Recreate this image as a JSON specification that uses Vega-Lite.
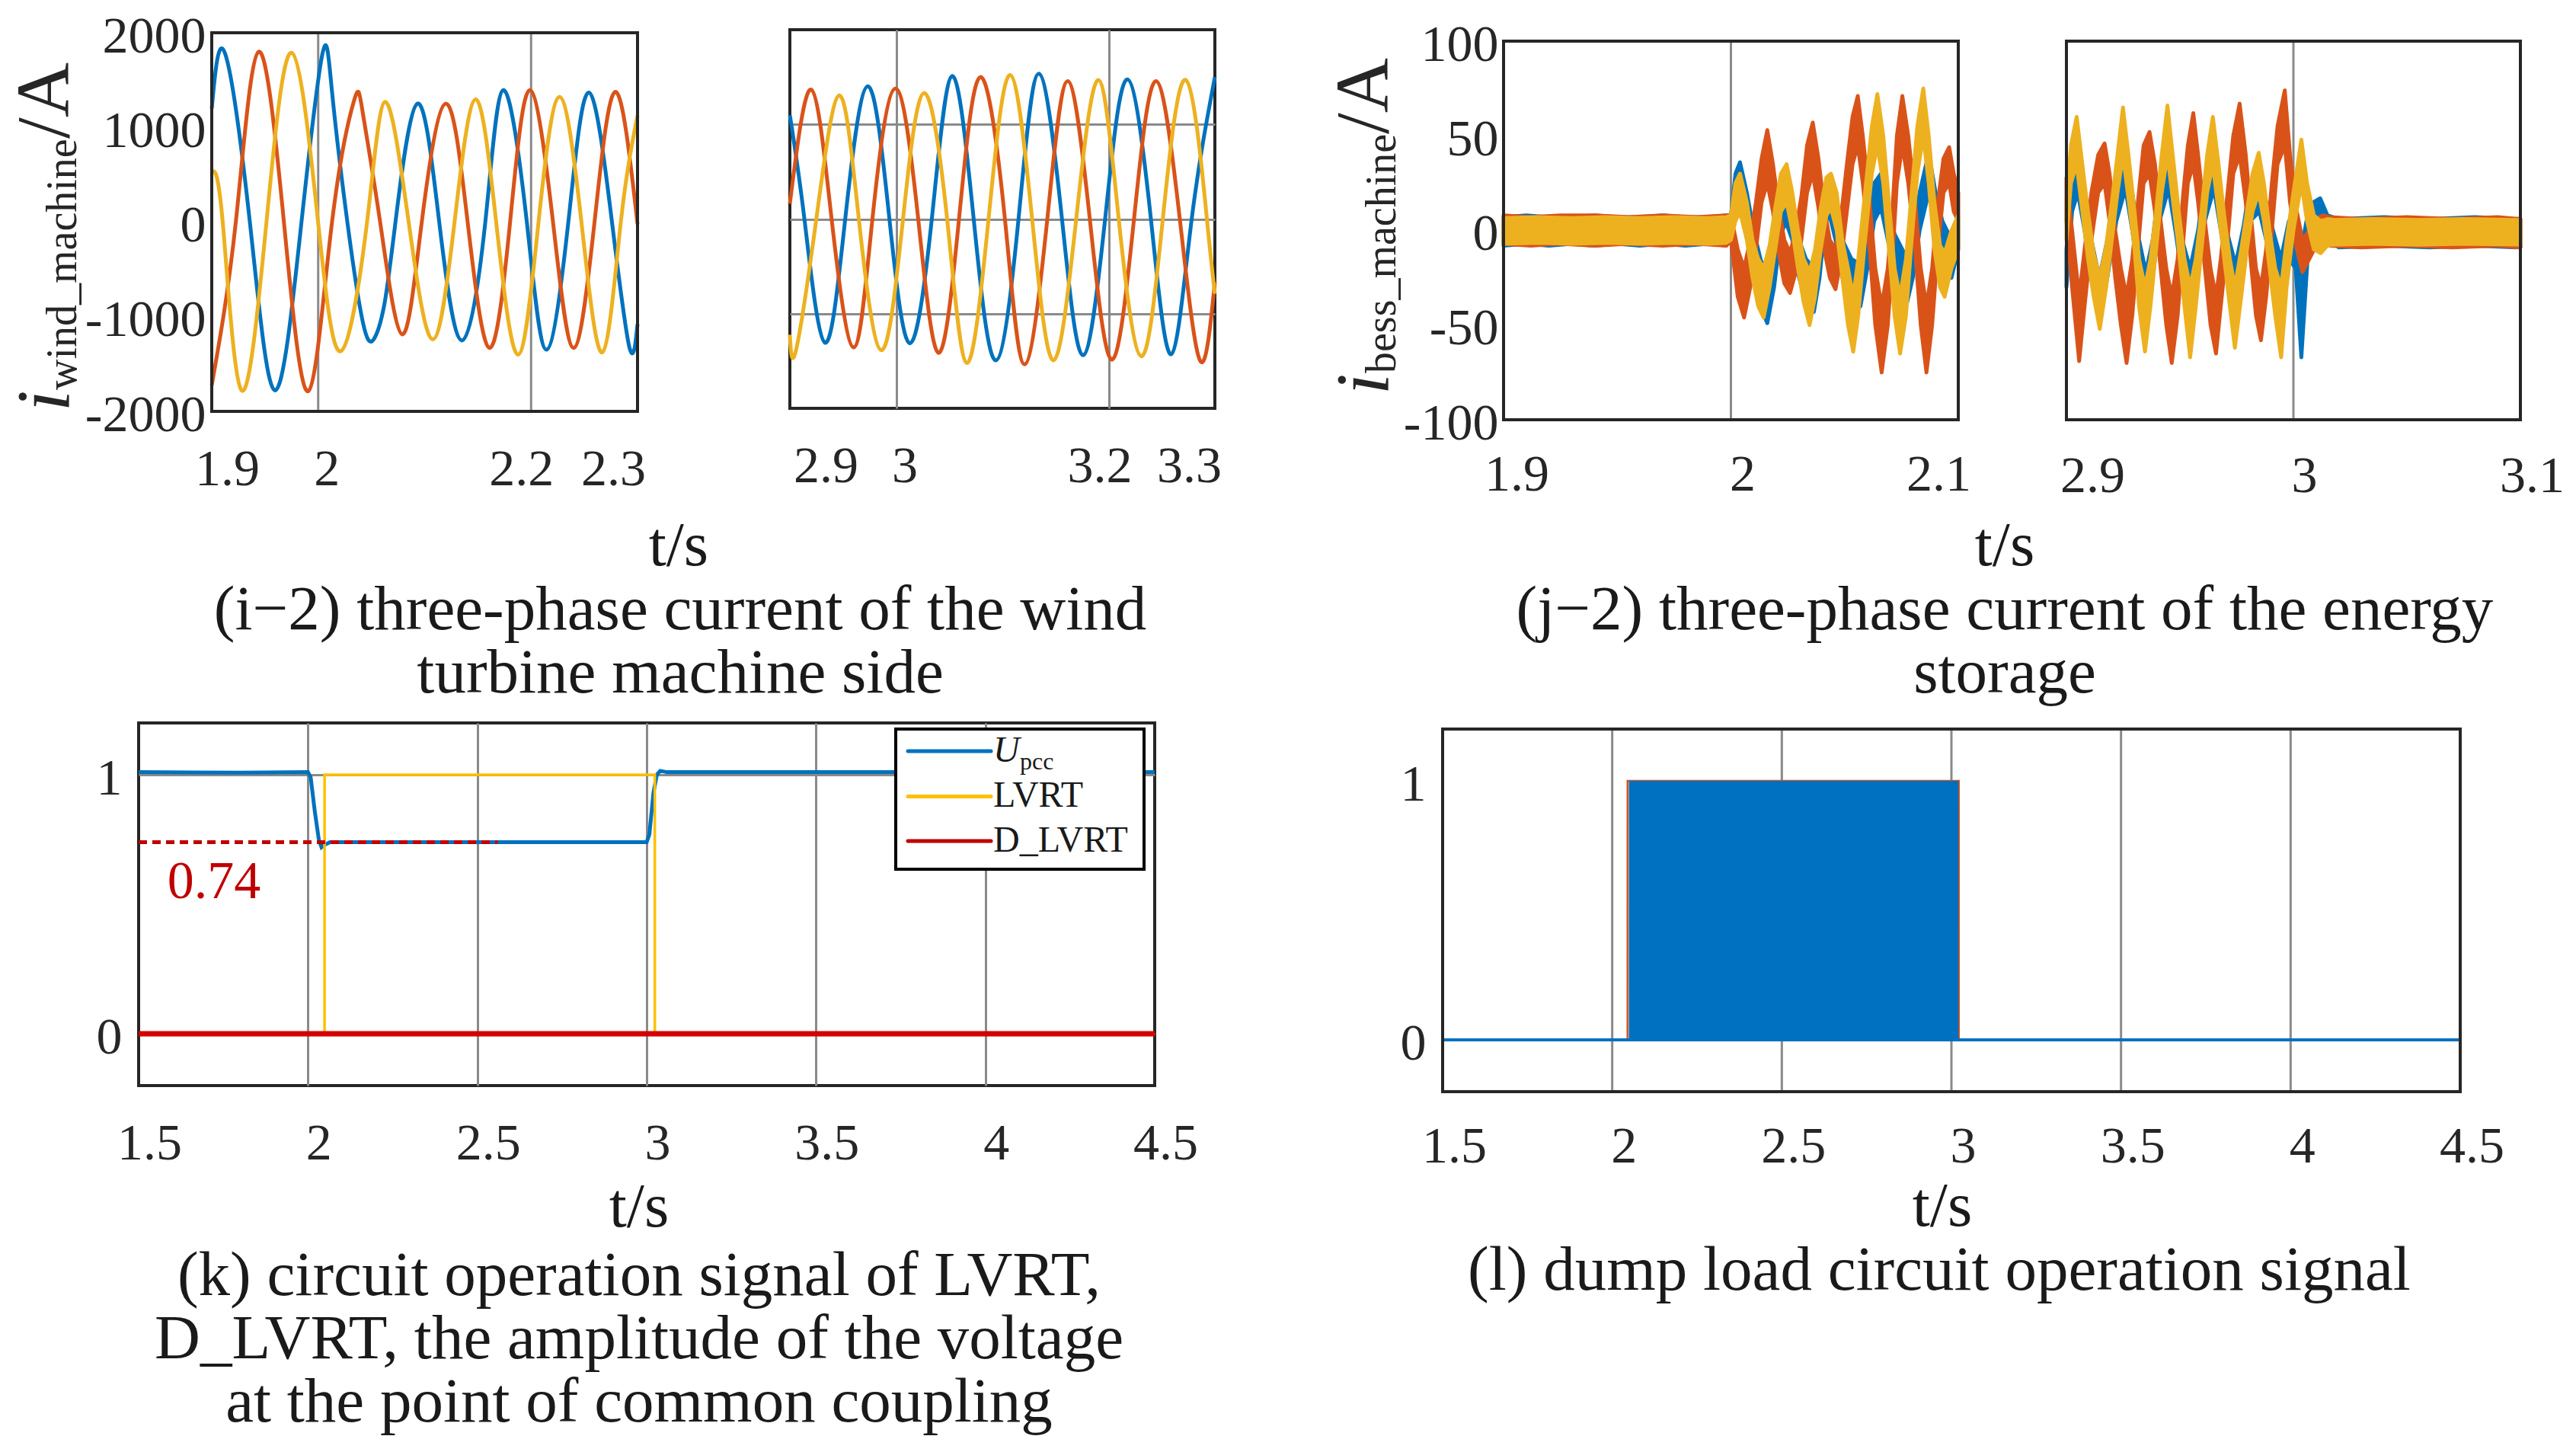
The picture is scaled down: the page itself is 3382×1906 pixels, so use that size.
{
"$schema": "https://vega.github.io/schema/vega-lite/v6.json",
"background": "white",
"padding": {"left": 0, "top": 14, "right": 0, "bottom": 0},
"spacing": 21,
"bounds": "full",
"config": {
  "view": {"stroke": null},
  "font": "Liberation Serif",
  "axis": {"labelFont": "Liberation Serif", "labelFontSize": 68, "labelColor": "#262626", "gridColor": "#8a8a8a", "gridWidth": 3, "domain": false, "ticks": false, "tickSize": 0, "labelFlush": false, "labelOverlap": false, "labelBound": false},
  "text": {"font": "Liberation Serif", "color": "#1a1a1a"}
},
"datasets": {
  "wind": [
    {"p":1,"ph":"a","t":1.9,"v":1197},{"p":1,"ph":"a","t":1.9123,"v":1788},{"p":1,"ph":"a","t":1.9358,"v":0},{"p":1,"ph":"a","t":1.9596,"v":-1778},{"p":1,"ph":"a","t":1.9843,"v":0},{"p":1,"ph":"a","t":2.004,"v":1778},{"p":1,"ph":"a","t":2.013,"v":1376},{"p":1,"ph":"a","t":2.0274,"v":0},{"p":1,"ph":"a","t":2.042,"v":-1060},{"p":1,"ph":"a","t":2.0521,"v":-1240},{"p":1,"ph":"a","t":2.062,"v":-880},{"p":1,"ph":"a","t":2.0726,"v":0},{"p":1,"ph":"a","t":2.0932,"v":1251},{"p":1,"ph":"a","t":2.1137,"v":0},{"p":1,"ph":"a","t":2.135,"v":-1251},{"p":1,"ph":"a","t":2.157,"v":0},{"p":1,"ph":"a","t":2.1741,"v":1394},{"p":1,"ph":"a","t":2.196,"v":0},{"p":1,"ph":"a","t":2.2144,"v":-1348},{"p":1,"ph":"a","t":2.235,"v":0},{"p":1,"ph":"a","t":2.2543,"v":1369},{"p":1,"ph":"a","t":2.276,"v":0},{"p":1,"ph":"a","t":2.2925,"v":-1330},{"p":1,"ph":"a","t":2.3,"v":-1079},
    {"p":1,"ph":"b","t":1.9,"v":-1724},{"p":1,"ph":"b","t":1.9226,"v":0},{"p":1,"ph":"b","t":1.944,"v":1799},{"p":1,"ph":"b","t":1.9678,"v":0},{"p":1,"ph":"b","t":1.9908,"v":-1785},{"p":1,"ph":"b","t":2.013,"v":0},{"p":1,"ph":"b","t":2.0336,"v":1280},{"p":1,"ph":"b","t":2.0418,"v":1161},{"p":1,"ph":"b","t":2.0582,"v":0},{"p":1,"ph":"b","t":2.0788,"v":-1186},{"p":1,"ph":"b","t":2.0973,"v":0},{"p":1,"ph":"b","t":2.12,"v":1251},{"p":1,"ph":"b","t":2.1404,"v":0},{"p":1,"ph":"b","t":2.161,"v":-1330},{"p":1,"ph":"b","t":2.1803,"v":0},{"p":1,"ph":"b","t":2.1988,"v":1394},{"p":1,"ph":"b","t":2.2206,"v":0},{"p":1,"ph":"b","t":2.24,"v":-1330},{"p":1,"ph":"b","t":2.2596,"v":0},{"p":1,"ph":"b","t":2.2793,"v":1376},{"p":1,"ph":"b","t":2.3,"v":-21},
    {"p":1,"ph":"c","t":1.9,"v":534},{"p":1,"ph":"c","t":1.9103,"v":0},{"p":1,"ph":"c","t":1.928,"v":-1778},{"p":1,"ph":"c","t":1.9514,"v":0},{"p":1,"ph":"c","t":1.9752,"v":1788},{"p":1,"ph":"c","t":1.9999,"v":0},{"p":1,"ph":"c","t":2.0212,"v":-1365},{"p":1,"ph":"c","t":2.0459,"v":0},{"p":1,"ph":"c","t":2.0632,"v":1269},{"p":1,"ph":"c","t":2.085,"v":0},{"p":1,"ph":"c","t":2.1076,"v":-1240},{"p":1,"ph":"c","t":2.1281,"v":0},{"p":1,"ph":"c","t":2.1478,"v":1297},{"p":1,"ph":"c","t":2.1672,"v":0},{"p":1,"ph":"c","t":2.1877,"v":-1401},{"p":1,"ph":"c","t":2.207,"v":0},{"p":1,"ph":"c","t":2.2267,"v":1322},{"p":1,"ph":"c","t":2.2473,"v":0},{"p":1,"ph":"c","t":2.267,"v":-1376},{"p":1,"ph":"c","t":2.2843,"v":0},{"p":1,"ph":"c","t":2.3,"v":1125},
    {"p":2,"ph":"a","t":2.9,"v":1097},{"p":2,"ph":"a","t":2.9137,"v":0},{"p":2,"ph":"a","t":2.9329,"v":-1306},{"p":2,"ph":"a","t":2.9521,"v":0},{"p":2,"ph":"a","t":2.9735,"v":1403},{"p":2,"ph":"a","t":2.9937,"v":0},{"p":2,"ph":"a","t":3.0129,"v":-1313},{"p":2,"ph":"a","t":3.0336,"v":0},{"p":2,"ph":"a","t":3.0528,"v":1511},{"p":2,"ph":"a","t":3.073,"v":0},{"p":2,"ph":"a","t":3.0937,"v":-1493},{"p":2,"ph":"a","t":3.1152,"v":0},{"p":2,"ph":"a","t":3.1343,"v":1536},{"p":2,"ph":"a","t":3.1561,"v":0},{"p":2,"ph":"a","t":3.1759,"v":-1439},{"p":2,"ph":"a","t":3.1967,"v":0},{"p":2,"ph":"a","t":3.2175,"v":1475},{"p":2,"ph":"a","t":3.2398,"v":0},{"p":2,"ph":"a","t":3.259,"v":-1428},{"p":2,"ph":"a","t":3.2782,"v":0},{"p":2,"ph":"a","t":3.3,"v":1500},
    {"p":2,"ph":"b","t":2.9,"v":162},{"p":2,"ph":"b","t":2.9201,"v":1367},{"p":2,"ph":"b","t":2.9393,"v":0},{"p":2,"ph":"b","t":2.9601,"v":-1356},{"p":2,"ph":"b","t":2.9777,"v":0},{"p":2,"ph":"b","t":2.9994,"v":1378},{"p":2,"ph":"b","t":3.0208,"v":0},{"p":2,"ph":"b","t":3.04,"v":-1414},{"p":2,"ph":"b","t":3.0592,"v":0},{"p":2,"ph":"b","t":3.0794,"v":1500},{"p":2,"ph":"b","t":3.1024,"v":0},{"p":2,"ph":"b","t":3.1209,"v":-1536},{"p":2,"ph":"b","t":3.1423,"v":0},{"p":2,"ph":"b","t":3.1615,"v":1457},{"p":2,"ph":"b","t":3.1823,"v":0},{"p":2,"ph":"b","t":3.2031,"v":-1486},{"p":2,"ph":"b","t":3.2239,"v":0},{"p":2,"ph":"b","t":3.2446,"v":1457},{"p":2,"ph":"b","t":3.267,"v":0},{"p":2,"ph":"b","t":3.2862,"v":-1500},{"p":2,"ph":"b","t":3.3,"v":-665},
    {"p":2,"ph":"c","t":2.9,"v":-1223},{"p":2,"ph":"c","t":2.9058,"v":-1385},{"p":2,"ph":"c","t":2.9249,"v":0},{"p":2,"ph":"c","t":2.9464,"v":1306},{"p":2,"ph":"c","t":2.9649,"v":0},{"p":2,"ph":"c","t":2.9863,"v":-1385},{"p":2,"ph":"c","t":3.0065,"v":0},{"p":2,"ph":"c","t":3.0263,"v":1331},{"p":2,"ph":"c","t":3.048,"v":0},{"p":2,"ph":"c","t":3.0666,"v":-1522},{"p":2,"ph":"c","t":3.087,"v":0},{"p":2,"ph":"c","t":3.1072,"v":1522},{"p":2,"ph":"c","t":3.128,"v":0},{"p":2,"ph":"c","t":3.1481,"v":-1493},{"p":2,"ph":"c","t":3.1695,"v":0},{"p":2,"ph":"c","t":3.1903,"v":1468},{"p":2,"ph":"c","t":3.2095,"v":0},{"p":2,"ph":"c","t":3.2309,"v":-1450},{"p":2,"ph":"c","t":3.251,"v":0},{"p":2,"ph":"c","t":3.2728,"v":1468},{"p":2,"ph":"c","t":3.2925,"v":0},{"p":2,"ph":"c","t":3.3,"v":-790}
  ],
  "bess": [
    {"p":1,"ph":"a","t":1.9,"lo":-8,"hi":7},{"p":1,"ph":"a","t":1.91,"lo":-7,"hi":8},{"p":1,"ph":"a","t":1.92,"lo":-8,"hi":7},{"p":1,"ph":"a","t":1.93,"lo":-7,"hi":7},{"p":1,"ph":"a","t":1.94,"lo":-8,"hi":8},{"p":1,"ph":"a","t":1.95,"lo":-7,"hi":7},{"p":1,"ph":"a","t":1.96,"lo":-8,"hi":7},{"p":1,"ph":"a","t":1.97,"lo":-7,"hi":8},{"p":1,"ph":"a","t":1.98,"lo":-8,"hi":7},{"p":1,"ph":"a","t":1.99,"lo":-7,"hi":7},{"p":1,"ph":"a","t":1.998,"lo":-8,"hi":8},
    {"p":1,"ph":"a","t":2.0,"lo":-5,"hi":8},{"p":1,"ph":"a","t":2.002,"lo":15,"hi":30},{"p":1,"ph":"a","t":2.004,"lo":20,"hi":36},{"p":1,"ph":"a","t":2.007,"lo":0,"hi":20},{"p":1,"ph":"a","t":2.01,"lo":-20,"hi":0},{"p":1,"ph":"a","t":2.013,"lo":-40,"hi":-15},{"p":1,"ph":"a","t":2.016,"lo":-49,"hi":-25},{"p":1,"ph":"a","t":2.019,"lo":-30,"hi":-8},{"p":1,"ph":"a","t":2.0215,"lo":-5,"hi":15},{"p":1,"ph":"a","t":2.024,"lo":5,"hi":22},{"p":1,"ph":"a","t":2.027,"lo":-5,"hi":15},{"p":1,"ph":"a","t":2.03,"lo":-25,"hi":-5},{"p":1,"ph":"a","t":2.033,"lo":-38,"hi":-15},{"p":1,"ph":"a","t":2.0365,"lo":-43,"hi":-20},{"p":1,"ph":"a","t":2.039,"lo":-25,"hi":-5},{"p":1,"ph":"a","t":2.041,"lo":0,"hi":20},{"p":1,"ph":"a","t":2.043,"lo":10,"hi":28},{"p":1,"ph":"a","t":2.046,"lo":-5,"hi":15},{"p":1,"ph":"a","t":2.049,"lo":-25,"hi":-5},{"p":1,"ph":"a","t":2.053,"lo":-35,"hi":-15},{"p":1,"ph":"a","t":2.057,"lo":-40,"hi":-18},{"p":1,"ph":"a","t":2.06,"lo":-20,"hi":0},{"p":1,"ph":"a","t":2.063,"lo":5,"hi":25},{"p":1,"ph":"a","t":2.066,"lo":12,"hi":30},{"p":1,"ph":"a","t":2.069,"lo":-5,"hi":15},{"p":1,"ph":"a","t":2.072,"lo":-22,"hi":-2},{"p":1,"ph":"a","t":2.0775,"lo":-38,"hi":-15},{"p":1,"ph":"a","t":2.08,"lo":-25,"hi":-5},{"p":1,"ph":"a","t":2.083,"lo":0,"hi":20},{"p":1,"ph":"a","t":2.087,"lo":20,"hi":41},{"p":1,"ph":"a","t":2.09,"lo":0,"hi":20},{"p":1,"ph":"a","t":2.093,"lo":-15,"hi":5},{"p":1,"ph":"a","t":2.097,"lo":-25,"hi":-5},{"p":1,"ph":"a","t":2.1,"lo":-10,"hi":5},
    {"p":1,"ph":"b","t":1.9,"lo":-7,"hi":8},{"p":1,"ph":"b","t":1.912,"lo":-8,"hi":7},{"p":1,"ph":"b","t":1.925,"lo":-7,"hi":8},{"p":1,"ph":"b","t":1.94,"lo":-8,"hi":8},{"p":1,"ph":"b","t":1.955,"lo":-7,"hi":7},{"p":1,"ph":"b","t":1.97,"lo":-8,"hi":8},{"p":1,"ph":"b","t":1.985,"lo":-7,"hi":7},{"p":1,"ph":"b","t":1.998,"lo":-8,"hi":8},
    {"p":1,"ph":"b","t":2.0,"lo":-5,"hi":8},{"p":1,"ph":"b","t":2.003,"lo":-35,"hi":-10},{"p":1,"ph":"b","t":2.0058,"lo":-46,"hi":-20},{"p":1,"ph":"b","t":2.0085,"lo":-30,"hi":-5},{"p":1,"ph":"b","t":2.011,"lo":-10,"hi":15},{"p":1,"ph":"b","t":2.0135,"lo":15,"hi":38},{"p":1,"ph":"b","t":2.016,"lo":25,"hi":53},{"p":1,"ph":"b","t":2.0185,"lo":10,"hi":35},{"p":1,"ph":"b","t":2.021,"lo":-12,"hi":12},{"p":1,"ph":"b","t":2.0235,"lo":-28,"hi":-5},{"p":1,"ph":"b","t":2.026,"lo":-33,"hi":-12},{"p":1,"ph":"b","t":2.0285,"lo":-22,"hi":0},{"p":1,"ph":"b","t":2.031,"lo":-5,"hi":18},{"p":1,"ph":"b","t":2.0335,"lo":20,"hi":45},{"p":1,"ph":"b","t":2.036,"lo":30,"hi":57},{"p":1,"ph":"b","t":2.0385,"lo":12,"hi":38},{"p":1,"ph":"b","t":2.041,"lo":-10,"hi":12},{"p":1,"ph":"b","t":2.0435,"lo":-25,"hi":-5},{"p":1,"ph":"b","t":2.046,"lo":-31,"hi":-10},{"p":1,"ph":"b","t":2.0485,"lo":-15,"hi":8},{"p":1,"ph":"b","t":2.051,"lo":10,"hi":35},{"p":1,"ph":"b","t":2.0535,"lo":35,"hi":60},{"p":1,"ph":"b","t":2.0558,"lo":45,"hi":71},{"p":1,"ph":"b","t":2.058,"lo":25,"hi":50},{"p":1,"ph":"b","t":2.061,"lo":-10,"hi":15},{"p":1,"ph":"b","t":2.0635,"lo":-50,"hi":-20},{"p":1,"ph":"b","t":2.0663,"lo":-75,"hi":-40},{"p":1,"ph":"b","t":2.069,"lo":-50,"hi":-20},{"p":1,"ph":"b","t":2.071,"lo":-15,"hi":10},{"p":1,"ph":"b","t":2.073,"lo":25,"hi":50},{"p":1,"ph":"b","t":2.0754,"lo":45,"hi":71},{"p":1,"ph":"b","t":2.078,"lo":25,"hi":50},{"p":1,"ph":"b","t":2.081,"lo":-10,"hi":15},{"p":1,"ph":"b","t":2.0835,"lo":-50,"hi":-20},{"p":1,"ph":"b","t":2.086,"lo":-75,"hi":-40},{"p":1,"ph":"b","t":2.0885,"lo":-50,"hi":-20},{"p":1,"ph":"b","t":2.091,"lo":-10,"hi":15},{"p":1,"ph":"b","t":2.0935,"lo":20,"hi":38},{"p":1,"ph":"b","t":2.096,"lo":25,"hi":44},{"p":1,"ph":"b","t":2.098,"lo":10,"hi":30},{"p":1,"ph":"b","t":2.1,"lo":5,"hi":20},
    {"p":1,"ph":"c","t":1.9,"lo":-7,"hi":6.5},{"p":1,"ph":"c","t":1.915,"lo":-6.5,"hi":7},{"p":1,"ph":"c","t":1.93,"lo":-7,"hi":6.5},{"p":1,"ph":"c","t":1.945,"lo":-6.5,"hi":7},{"p":1,"ph":"c","t":1.96,"lo":-7,"hi":6.5},{"p":1,"ph":"c","t":1.975,"lo":-6.5,"hi":7},{"p":1,"ph":"c","t":1.99,"lo":-7,"hi":6.5},{"p":1,"ph":"c","t":1.998,"lo":-6.5,"hi":7},
    {"p":1,"ph":"c","t":2.0,"lo":-5,"hi":8},{"p":1,"ph":"c","t":2.002,"lo":5,"hi":25},{"p":1,"ph":"c","t":2.004,"lo":10,"hi":30},{"p":1,"ph":"c","t":2.007,"lo":-5,"hi":15},{"p":1,"ph":"c","t":2.0095,"lo":-25,"hi":-5},{"p":1,"ph":"c","t":2.012,"lo":-40,"hi":-15},{"p":1,"ph":"c","t":2.0144,"lo":-46,"hi":-20},{"p":1,"ph":"c","t":2.017,"lo":-30,"hi":-8},{"p":1,"ph":"c","t":2.0195,"lo":-10,"hi":12},{"p":1,"ph":"c","t":2.022,"lo":10,"hi":30},{"p":1,"ph":"c","t":2.0245,"lo":15,"hi":35},{"p":1,"ph":"c","t":2.027,"lo":0,"hi":20},{"p":1,"ph":"c","t":2.0295,"lo":-20,"hi":0},{"p":1,"ph":"c","t":2.032,"lo":-38,"hi":-15},{"p":1,"ph":"c","t":2.0346,"lo":-50,"hi":-22},{"p":1,"ph":"c","t":2.037,"lo":-35,"hi":-10},{"p":1,"ph":"c","t":2.0395,"lo":-10,"hi":12},{"p":1,"ph":"c","t":2.042,"lo":8,"hi":28},{"p":1,"ph":"c","t":2.044,"lo":12,"hi":30},{"p":1,"ph":"c","t":2.0465,"lo":0,"hi":20},{"p":1,"ph":"c","t":2.049,"lo":-25,"hi":-5},{"p":1,"ph":"c","t":2.0515,"lo":-50,"hi":-20},{"p":1,"ph":"c","t":2.0538,"lo":-64,"hi":-35},{"p":1,"ph":"c","t":2.056,"lo":-45,"hi":-15},{"p":1,"ph":"c","t":2.059,"lo":-5,"hi":20},{"p":1,"ph":"c","t":2.062,"lo":30,"hi":55},{"p":1,"ph":"c","t":2.0644,"lo":45,"hi":72},{"p":1,"ph":"c","t":2.067,"lo":25,"hi":50},{"p":1,"ph":"c","t":2.0695,"lo":-10,"hi":15},{"p":1,"ph":"c","t":2.072,"lo":-45,"hi":-20},{"p":1,"ph":"c","t":2.0744,"lo":-65,"hi":-35},{"p":1,"ph":"c","t":2.077,"lo":-45,"hi":-15},{"p":1,"ph":"c","t":2.0795,"lo":-5,"hi":20},{"p":1,"ph":"c","t":2.082,"lo":30,"hi":55},{"p":1,"ph":"c","t":2.0846,"lo":50,"hi":75},{"p":1,"ph":"c","t":2.087,"lo":25,"hi":50},{"p":1,"ph":"c","t":2.0895,"lo":-10,"hi":15},{"p":1,"ph":"c","t":2.092,"lo":-30,"hi":-8},{"p":1,"ph":"c","t":2.094,"lo":-35,"hi":-12},{"p":1,"ph":"c","t":2.097,"lo":-20,"hi":0},{"p":1,"ph":"c","t":2.1,"lo":-10,"hi":8},
    {"p":2,"ph":"a","t":2.9,"lo":-30,"hi":-10},{"p":2,"ph":"a","t":2.9025,"lo":10,"hi":30},{"p":2,"ph":"a","t":2.905,"lo":20,"hi":40},{"p":2,"ph":"a","t":2.908,"lo":0,"hi":20},{"p":2,"ph":"a","t":2.911,"lo":-25,"hi":-5},{"p":2,"ph":"a","t":2.9145,"lo":-49,"hi":-25},{"p":2,"ph":"a","t":2.918,"lo":-25,"hi":-5},{"p":2,"ph":"a","t":2.922,"lo":5,"hi":25},{"p":2,"ph":"a","t":2.926,"lo":22,"hi":42},{"p":2,"ph":"a","t":2.929,"lo":0,"hi":20},{"p":2,"ph":"a","t":2.932,"lo":-25,"hi":-5},{"p":2,"ph":"a","t":2.935,"lo":-45,"hi":-22},{"p":2,"ph":"a","t":2.938,"lo":-25,"hi":-5},{"p":2,"ph":"a","t":2.941,"lo":5,"hi":25},{"p":2,"ph":"a","t":2.945,"lo":22,"hi":43},{"p":2,"ph":"a","t":2.948,"lo":0,"hi":20},{"p":2,"ph":"a","t":2.951,"lo":-25,"hi":-5},{"p":2,"ph":"a","t":2.9545,"lo":-42,"hi":-20},{"p":2,"ph":"a","t":2.958,"lo":-20,"hi":0},{"p":2,"ph":"a","t":2.961,"lo":5,"hi":25},{"p":2,"ph":"a","t":2.965,"lo":22,"hi":42},{"p":2,"ph":"a","t":2.968,"lo":0,"hi":20},{"p":2,"ph":"a","t":2.971,"lo":-22,"hi":-2},{"p":2,"ph":"a","t":2.9745,"lo":-40,"hi":-18},{"p":2,"ph":"a","t":2.978,"lo":-18,"hi":2},{"p":2,"ph":"a","t":2.981,"lo":5,"hi":25},{"p":2,"ph":"a","t":2.985,"lo":10,"hi":28},{"p":2,"ph":"a","t":2.988,"lo":-5,"hi":15},{"p":2,"ph":"a","t":2.991,"lo":-20,"hi":0},{"p":2,"ph":"a","t":2.9945,"lo":-35,"hi":-15},{"p":2,"ph":"a","t":2.998,"lo":-15,"hi":5},{"p":2,"ph":"a","t":3.001,"lo":-20,"hi":0},{"p":2,"ph":"a","t":3.0035,"lo":-67,"hi":-10},{"p":2,"ph":"a","t":3.0065,"lo":-10,"hi":10},{"p":2,"ph":"a","t":3.009,"lo":0,"hi":15},{"p":2,"ph":"a","t":3.0118,"lo":5,"hi":17},{"p":2,"ph":"a","t":3.015,"lo":-3,"hi":8},
    {"p":2,"ph":"a","t":3.02,"lo":-9,"hi":6},{"p":2,"ph":"a","t":3.04,"lo":-8,"hi":7},{"p":2,"ph":"a","t":3.06,"lo":-9,"hi":6},{"p":2,"ph":"a","t":3.08,"lo":-8,"hi":7},{"p":2,"ph":"a","t":3.1,"lo":-9,"hi":6},
    {"p":2,"ph":"b","t":2.9,"lo":5,"hi":28},{"p":2,"ph":"b","t":2.9025,"lo":-30,"hi":0},{"p":2,"ph":"b","t":2.9056,"lo":-69,"hi":-35},{"p":2,"ph":"b","t":2.908,"lo":-40,"hi":-10},{"p":2,"ph":"b","t":2.911,"lo":-5,"hi":20},{"p":2,"ph":"b","t":2.914,"lo":20,"hi":40},{"p":2,"ph":"b","t":2.9168,"lo":25,"hi":46},{"p":2,"ph":"b","t":2.919,"lo":5,"hi":30},{"p":2,"ph":"b","t":2.9215,"lo":-25,"hi":0},{"p":2,"ph":"b","t":2.924,"lo":-50,"hi":-20},{"p":2,"ph":"b","t":2.9265,"lo":-70,"hi":-35},{"p":2,"ph":"b","t":2.929,"lo":-45,"hi":-15},{"p":2,"ph":"b","t":2.9315,"lo":-10,"hi":15},{"p":2,"ph":"b","t":2.934,"lo":25,"hi":45},{"p":2,"ph":"b","t":2.9366,"lo":30,"hi":52},{"p":2,"ph":"b","t":2.939,"lo":10,"hi":35},{"p":2,"ph":"b","t":2.9415,"lo":-20,"hi":5},{"p":2,"ph":"b","t":2.944,"lo":-50,"hi":-20},{"p":2,"ph":"b","t":2.9464,"lo":-70,"hi":-35},{"p":2,"ph":"b","t":2.949,"lo":-45,"hi":-15},{"p":2,"ph":"b","t":2.9515,"lo":-5,"hi":20},{"p":2,"ph":"b","t":2.9535,"lo":25,"hi":45},{"p":2,"ph":"b","t":2.9559,"lo":35,"hi":62},{"p":2,"ph":"b","t":2.958,"lo":15,"hi":40},{"p":2,"ph":"b","t":2.961,"lo":-20,"hi":5},{"p":2,"ph":"b","t":2.9635,"lo":-50,"hi":-20},{"p":2,"ph":"b","t":2.9659,"lo":-65,"hi":-35},{"p":2,"ph":"b","t":2.968,"lo":-40,"hi":-15},{"p":2,"ph":"b","t":2.971,"lo":-5,"hi":20},{"p":2,"ph":"b","t":2.9735,"lo":30,"hi":50},{"p":2,"ph":"b","t":2.9763,"lo":40,"hi":67},{"p":2,"ph":"b","t":2.979,"lo":15,"hi":40},{"p":2,"ph":"b","t":2.9815,"lo":-20,"hi":5},{"p":2,"ph":"b","t":2.9835,"lo":-45,"hi":-20},{"p":2,"ph":"b","t":2.9857,"lo":-58,"hi":-30},{"p":2,"ph":"b","t":2.988,"lo":-35,"hi":-10},{"p":2,"ph":"b","t":2.9905,"lo":0,"hi":25},{"p":2,"ph":"b","t":2.993,"lo":35,"hi":55},{"p":2,"ph":"b","t":2.9962,"lo":45,"hi":74},{"p":2,"ph":"b","t":2.9985,"lo":15,"hi":40},{"p":2,"ph":"b","t":3.0015,"lo":-10,"hi":10},{"p":2,"ph":"b","t":3.004,"lo":-22,"hi":-5},{"p":2,"ph":"b","t":3.007,"lo":-15,"hi":0},{"p":2,"ph":"b","t":3.01,"lo":-8,"hi":6},{"p":2,"ph":"b","t":3.013,"lo":-5,"hi":8},
    {"p":2,"ph":"b","t":3.016,"lo":-8,"hi":7},{"p":2,"ph":"b","t":3.03,"lo":-9,"hi":6},{"p":2,"ph":"b","t":3.05,"lo":-8,"hi":7},{"p":2,"ph":"b","t":3.07,"lo":-9,"hi":6},{"p":2,"ph":"b","t":3.09,"lo":-8,"hi":7},{"p":2,"ph":"b","t":3.1,"lo":-9,"hi":6},
    {"p":2,"ph":"c","t":2.9,"lo":-5,"hi":15},{"p":2,"ph":"c","t":2.902,"lo":25,"hi":45},{"p":2,"ph":"c","t":2.9045,"lo":35,"hi":60},{"p":2,"ph":"c","t":2.907,"lo":10,"hi":35},{"p":2,"ph":"c","t":2.9095,"lo":-15,"hi":10},{"p":2,"ph":"c","t":2.912,"lo":-35,"hi":-12},{"p":2,"ph":"c","t":2.9147,"lo":-52,"hi":-25},{"p":2,"ph":"c","t":2.9175,"lo":-30,"hi":-8},{"p":2,"ph":"c","t":2.92,"lo":-5,"hi":15},{"p":2,"ph":"c","t":2.9225,"lo":20,"hi":40},{"p":2,"ph":"c","t":2.9249,"lo":40,"hi":65},{"p":2,"ph":"c","t":2.9275,"lo":15,"hi":38},{"p":2,"ph":"c","t":2.93,"lo":-10,"hi":10},{"p":2,"ph":"c","t":2.932,"lo":-40,"hi":-15},{"p":2,"ph":"c","t":2.9346,"lo":-64,"hi":-30},{"p":2,"ph":"c","t":2.937,"lo":-40,"hi":-15},{"p":2,"ph":"c","t":2.9395,"lo":-10,"hi":10},{"p":2,"ph":"c","t":2.942,"lo":20,"hi":40},{"p":2,"ph":"c","t":2.9445,"lo":40,"hi":66},{"p":2,"ph":"c","t":2.947,"lo":15,"hi":38},{"p":2,"ph":"c","t":2.9495,"lo":-10,"hi":10},{"p":2,"ph":"c","t":2.952,"lo":-40,"hi":-15},{"p":2,"ph":"c","t":2.9545,"lo":-67,"hi":-30},{"p":2,"ph":"c","t":2.957,"lo":-40,"hi":-15},{"p":2,"ph":"c","t":2.9595,"lo":-10,"hi":10},{"p":2,"ph":"c","t":2.962,"lo":20,"hi":40},{"p":2,"ph":"c","t":2.9645,"lo":35,"hi":60},{"p":2,"ph":"c","t":2.967,"lo":10,"hi":35},{"p":2,"ph":"c","t":2.9695,"lo":-15,"hi":8},{"p":2,"ph":"c","t":2.972,"lo":-40,"hi":-15},{"p":2,"ph":"c","t":2.9742,"lo":-62,"hi":-30},{"p":2,"ph":"c","t":2.977,"lo":-35,"hi":-10},{"p":2,"ph":"c","t":2.9795,"lo":-10,"hi":10},{"p":2,"ph":"c","t":2.982,"lo":10,"hi":30},{"p":2,"ph":"c","t":2.9847,"lo":20,"hi":41},{"p":2,"ph":"c","t":2.987,"lo":5,"hi":25},{"p":2,"ph":"c","t":2.9895,"lo":-20,"hi":0},{"p":2,"ph":"c","t":2.992,"lo":-45,"hi":-20},{"p":2,"ph":"c","t":2.9946,"lo":-67,"hi":-30},{"p":2,"ph":"c","t":2.997,"lo":-30,"hi":-5},{"p":2,"ph":"c","t":3.0,"lo":0,"hi":20},{"p":2,"ph":"c","t":3.0035,"lo":25,"hi":48},{"p":2,"ph":"c","t":3.006,"lo":5,"hi":25},{"p":2,"ph":"c","t":3.009,"lo":-10,"hi":8},{"p":2,"ph":"c","t":3.012,"lo":-12,"hi":5},{"p":2,"ph":"c","t":3.015,"lo":-8,"hi":6},
    {"p":2,"ph":"c","t":3.018,"lo":-7.5,"hi":5.5},{"p":2,"ph":"c","t":3.035,"lo":-7,"hi":6},{"p":2,"ph":"c","t":3.055,"lo":-7.5,"hi":5.5},{"p":2,"ph":"c","t":3.075,"lo":-7,"hi":6},{"p":2,"ph":"c","t":3.1,"lo":-7.5,"hi":5.5}
  ],
  "kdat": [
    {"s":"Upcc","t":1.5,"v":1.01},{"s":"Upcc","t":1.8,"v":1.008},{"s":"Upcc","t":2.0,"v":1.01},{"s":"Upcc","t":2.008,"v":0.99},{"s":"Upcc","t":2.02,"v":0.86},{"s":"Upcc","t":2.032,"v":0.75},{"s":"Upcc","t":2.04,"v":0.72},{"s":"Upcc","t":2.05,"v":0.73},{"s":"Upcc","t":2.065,"v":0.74},{"s":"Upcc","t":2.5,"v":0.74},{"s":"Upcc","t":3.0,"v":0.74},{"s":"Upcc","t":3.008,"v":0.77},{"s":"Upcc","t":3.02,"v":0.93},{"s":"Upcc","t":3.03,"v":1.0},{"s":"Upcc","t":3.04,"v":1.015},{"s":"Upcc","t":3.06,"v":1.01},{"s":"Upcc","t":4.5,"v":1.01},
    {"s":"LVRT","t":1.5,"v":0},{"s":"LVRT","t":2.0489,"v":0},{"s":"LVRT","t":2.049,"v":1},{"s":"LVRT","t":3.024,"v":1},{"s":"LVRT","t":3.0241,"v":0},{"s":"LVRT","t":4.5,"v":0},
    {"s":"D_LVRT","t":1.5,"v":0},{"s":"D_LVRT","t":4.5,"v":0}
  ],
  "kref": [{"t0":1.5,"t1":2.56,"v":0.74}],
  "ldat": [
    {"s":"o","t":2.045,"v":0},{"s":"o","t":2.0451,"v":1},{"s":"o","t":3.0219,"v":1},{"s":"o","t":3.022,"v":0},
    {"s":"b","t":1.5,"v":0},{"s":"b","t":4.5,"v":0}
  ],
  "lfill": [{"t":2.049,"v":1},{"t":3.021,"v":1}]
},
"vconcat": [
 {
  "spacing": 0,
  "bounds": "flush",
  "hconcat": [
  {"width":278,"height":1,"data":{"values":[]},"mark":"point"},
  {
    "width": 559, "height": 501,
    "layer": [
      {"data": {"values": [{"g": 2}, {"g": 2.2}]}, "mark": {"type": "rule", "color": "#8a8a8a", "strokeWidth": 3},
       "encoding": {"x": {"field": "g", "type": "quantitative"}, "y": {"datum": -2000, "type": "quantitative"}, "y2": {"datum": 2000}}},
      {
        "data": {"name": "wind"},
        "transform": [{"filter": "datum.p == 1"}],
        "mark": {"type": "line", "strokeWidth": 5, "interpolate": "natural"},
        "encoding": {
          "x": {"field": "t", "type": "quantitative", "scale": {"domain": [1.9, 2.3], "nice": false, "zero": false},
            "axis": {"title": null, "values": [1.9, 2, 2.2, 2.3], "grid": false, "labelPadding": 42, "labelExpr": "toString(datum.value)",
              "labelOffset": {"condition": [{"test": "datum.value == 1.9", "value": 20}, {"test": "datum.value == 2", "value": 11}, {"test": "datum.value == 2.2", "value": -13}], "value": -32}}},
          "y": {"field": "v", "type": "quantitative", "scale": {"domain": [-2000, 2032.2], "nice": false, "zero": false},
            "axis": {"title": null, "values": [-2000, -1000, 0, 1000, 2000], "labelPadding": 8, "labelOffset": 5, "labelExpr": "toString(datum.value)",
              "gridOpacity": {"condition": {"test": "abs(datum.value) >= 2000", "value": 0}, "value": 1}}},
          "color": {"field": "ph", "type": "nominal", "scale": {"domain": ["a", "b", "c"], "range": ["#0072BD", "#D95319", "#EDB120"]}, "legend": null}
        }
      },
      {"data": {"values": [{}]}, "mark": {"type": "rect", "filled": false, "color": "#262626", "strokeWidth": 4},
       "encoding": {"x": {"datum": 1.9, "type": "quantitative"}, "x2": {"datum": 2.3}, "y": {"datum": -2000, "type": "quantitative"}, "y2": {"datum": 2000}}},
      {"data": {"values": [{}]}, "mark": {"type": "text", "text": "i", "angle": 270, "align": "left", "baseline": "alphabetic", "fontSize": 100, "fontStyle": "italic", "color": "#262626"},
       "encoding": {"x": {"datum": 1.76547, "type": "quantitative"}, "y": {"datum": -2000, "type": "quantitative"}}},
      {"data": {"values": [{}]}, "mark": {"type": "text", "text": "wind_machine", "angle": 270, "align": "left", "baseline": "alphabetic", "fontSize": 56, "color": "#262626"},
       "encoding": {"x": {"datum": 1.77263, "type": "quantitative"}, "y": {"datum": -1774.7, "type": "quantitative"}}},
      {"data": {"values": [{}]}, "mark": {"type": "text", "text": "/A", "angle": 270, "align": "left", "baseline": "alphabetic", "fontSize": 100, "color": "#262626"},
       "encoding": {"x": {"datum": 1.76547, "type": "quantitative"}, "y": {"datum": 881.3, "type": "quantitative"}}},
      {"data": {"values": [{}]}, "mark": {"type": "text", "text": "t/s", "align": "center", "baseline": "alphabetic", "fontSize": 83},
       "encoding": {"x": {"datum": 2.3386, "type": "quantitative"}, "y": {"datum": -3625.8, "type": "quantitative"}}},
      {"data": {"values": [{}]}, "mark": {"type": "text", "text": ["(i\u22122) three-phase current of the wind", "turbine machine side"], "lineHeight": 83, "align": "center", "baseline": "alphabetic", "fontSize": 83},
       "encoding": {"x": {"datum": 2.3401, "type": "quantitative"}, "y": {"datum": -4301.8, "type": "quantitative"}}}
    ]
  },
  {"width":200,"height":1,"data":{"values":[]},"mark":"point"},
  {
    "width": 558, "height": 497,
    "view": {"stroke": "#262626", "strokeWidth": 4},
    "data": {"name": "wind"},
    "transform": [{"filter": "datum.p == 2"}],
    "mark": {"type": "line", "strokeWidth": 5, "interpolate": "natural"},
    "encoding": {
      "x": {"field": "t", "type": "quantitative", "scale": {"domain": [2.9, 3.3], "nice": false, "zero": false},
        "axis": {"title": null, "values": [2.9, 3, 3.2, 3.3], "labelPadding": 42, "labelExpr": "toString(datum.value)",
          "labelOffset": {"condition": [{"test": "datum.value == 2.9", "value": 47}, {"test": "datum.value == 3", "value": 11}, {"test": "datum.value == 3.2", "value": -12}], "value": -34},
          "gridOpacity": {"condition": {"test": "datum.value <= 2.9 || datum.value >= 3.3", "value": 0}, "value": 1}}},
      "y": {"field": "v", "type": "quantitative", "scale": {"domain": [-2000, 2000], "nice": false, "zero": false},
        "axis": {"title": null, "values": [-1000, 0, 1000], "labels": false}},
      "color": {"field": "ph", "type": "nominal", "scale": {"domain": ["a", "b", "c"], "range": ["#0072BD", "#D95319", "#EDB120"]}, "legend": null}
    }
  },
  {"width":379,"height":1,"data":{"values":[]},"mark":"point"},
  {
    "width": 597, "height": 512,
    "layer": [
      {"data": {"values": [{"g": 2}]}, "mark": {"type": "rule", "color": "#8a8a8a", "strokeWidth": 3},
       "encoding": {"x": {"field": "g", "type": "quantitative"}, "y": {"datum": -100, "type": "quantitative"}, "y2": {"datum": 100}}},
      {
        "data": {"name": "bess"},
        "transform": [{"filter": "datum.p == 1"}],
        "mark": {"type": "area", "interpolate": "linear", "opacity": 1, "strokeWidth": 5, "strokeJoin": "round"},
        "encoding": {
          "x": {"field": "t", "type": "quantitative", "scale": {"domain": [1.9, 2.1], "nice": false, "zero": false},
            "axis": {"title": null, "values": [1.9, 2, 2.1], "grid": false, "labelPadding": 38, "labelExpr": "toString(datum.value)",
              "labelOffset": {"condition": [{"test": "datum.value == 1.9", "value": 17}, {"test": "datum.value == 2", "value": 15}], "value": -26}}},
          "y": {"field": "lo", "type": "quantitative", "scale": {"domain": [-100, 106.04], "nice": false, "zero": false},
            "axis": {"title": null, "values": [-100, -50, 0, 50, 100], "labelPadding": 7, "labelOffset": 5, "labelExpr": "toString(datum.value)",
              "gridOpacity": {"condition": {"test": "abs(datum.value) >= 100", "value": 0}, "value": 1}}},
          "y2": {"field": "hi"},
          "color": {"field": "ph", "type": "nominal", "scale": {"domain": ["a", "b", "c"], "range": ["#0072BD", "#D95319", "#EDB120"]}, "legend": null},
          "stroke": {"field": "ph", "type": "nominal", "scale": {"domain": ["a", "b", "c"], "range": ["#0072BD", "#D95319", "#EDB120"]}, "legend": null}
        }
      },
      {"data": {"values": [{}]}, "mark": {"type": "rect", "filled": false, "color": "#262626", "strokeWidth": 4},
       "encoding": {"x": {"datum": 1.9, "type": "quantitative"}, "x2": {"datum": 2.1}, "y": {"datum": -100, "type": "quantitative"}, "y2": {"datum": 100}}},
      {"data": {"values": [{}]}, "mark": {"type": "text", "text": "i", "angle": 270, "align": "left", "baseline": "alphabetic", "fontSize": 100, "fontStyle": "italic", "color": "#262626"},
       "encoding": {"x": {"datum": 1.84908, "type": "quantitative"}, "y": {"datum": -86.72, "type": "quantitative"}}},
      {"data": {"values": [{}]}, "mark": {"type": "text", "text": "bess_machine", "angle": 270, "align": "left", "baseline": "alphabetic", "fontSize": 56, "color": "#262626"},
       "encoding": {"x": {"datum": 1.85243, "type": "quantitative"}, "y": {"datum": -75.45, "type": "quantitative"}}},
      {"data": {"values": [{}]}, "mark": {"type": "text", "text": "/A", "angle": 270, "align": "left", "baseline": "alphabetic", "fontSize": 100, "color": "#262626"},
       "encoding": {"x": {"datum": 1.84908, "type": "quantitative"}, "y": {"datum": 50.91, "type": "quantitative"}}},
      {"data": {"values": [{}]}, "mark": {"type": "text", "text": "t/s", "align": "center", "baseline": "alphabetic", "fontSize": 83},
       "encoding": {"x": {"datum": 2.12043, "type": "quantitative"}, "y": {"datum": -176.86, "type": "quantitative"}}},
      {"data": {"values": [{}]}, "mark": {"type": "text", "text": ["(j\u22122) three-phase current of the energy", "storage"], "lineHeight": 83, "align": "center", "baseline": "alphabetic", "fontSize": 83},
       "encoding": {"x": {"datum": 2.12043, "type": "quantitative"}, "y": {"datum": -210.66, "type": "quantitative"}}}
    ]
  },
  {"width":142,"height":1,"data":{"values":[]},"mark":"point"},
  {
    "width": 596, "height": 512,
    "layer": [
      {"data": {"values": [{"g": 3}]}, "mark": {"type": "rule", "color": "#8a8a8a", "strokeWidth": 3},
       "encoding": {"x": {"field": "g", "type": "quantitative"}, "y": {"datum": -100, "type": "quantitative"}, "y2": {"datum": 100}}},
      {
        "data": {"name": "bess"},
        "transform": [{"filter": "datum.p == 2"}],
        "mark": {"type": "area", "interpolate": "linear", "opacity": 1, "strokeWidth": 5, "strokeJoin": "round"},
        "encoding": {
          "x": {"field": "t", "type": "quantitative", "scale": {"domain": [2.9, 3.1], "nice": false, "zero": false},
            "axis": {"title": null, "values": [2.9, 3, 3.1], "grid": false, "labelPadding": 40, "labelExpr": "toString(datum.value)",
              "labelOffset": {"condition": [{"test": "datum.value == 2.9", "value": 34}, {"test": "datum.value == 3", "value": 14}], "value": 15}}},
          "y": {"field": "lo", "type": "quantitative", "scale": {"domain": [-100, 106.04], "nice": false, "zero": false},
            "axis": {"title": null, "values": [-50, 0, 50], "labels": false}},
          "y2": {"field": "hi"},
          "color": {"field": "ph", "type": "nominal", "scale": {"domain": ["a", "b", "c"], "range": ["#0072BD", "#D95319", "#EDB120"]}, "legend": null},
          "stroke": {"field": "ph", "type": "nominal", "scale": {"domain": ["a", "b", "c"], "range": ["#0072BD", "#D95319", "#EDB120"]}, "legend": null}
        }
      },
      {"data": {"values": [{}]}, "mark": {"type": "rect", "filled": false, "color": "#262626", "strokeWidth": 4},
       "encoding": {"x": {"datum": 2.9, "type": "quantitative"}, "x2": {"datum": 3.1}, "y": {"datum": -100, "type": "quantitative"}, "y2": {"datum": 100}}}
    ]
  }
  ]
 },
 {
  "spacing": 0,
  "bounds": "flush",
  "hconcat": [
  {"width":182,"height":1,"data":{"values":[]},"mark":"point"},
  {
    "width": 1334, "height": 476,
    "view": {"stroke": "#262626", "strokeWidth": 4},
    "layer": [
      {
        "data": {"name": "kdat"},
        "transform": [{"filter": "datum.s == 'Upcc'"}],
        "mark": {"type": "line", "strokeWidth": 5, "color": "#0072BD"},
        "encoding": {
          "x": {"field": "t", "type": "quantitative", "scale": {"domain": [1.5, 4.5], "nice": false, "zero": false},
            "axis": {"title": null, "values": [1.5, 2, 2.5, 3, 3.5, 4, 4.5], "labelPadding": 42, "labelOffset": 14, "labelExpr": "toString(datum.value)",
              "gridOpacity": {"condition": {"test": "datum.value <= 1.5 || datum.value >= 4.5", "value": 0}, "value": 1}}},
          "y": {"field": "v", "type": "quantitative", "scale": {"domain": [-0.2, 1.2], "nice": false, "zero": false},
            "axis": {"title": null, "values": [0, 1], "labelPadding": 22, "labelOffset": 5, "labelExpr": "toString(datum.value)"}}
        }
      },
      {
        "data": {"name": "kdat"},
        "transform": [{"filter": "datum.s == 'LVRT'"}],
        "mark": {"type": "line", "strokeWidth": 3.5, "color": "#FFC000"},
        "encoding": {"x": {"field": "t", "type": "quantitative"}, "y": {"field": "v", "type": "quantitative"}}
      },
      {
        "data": {"name": "kdat"},
        "transform": [{"filter": "datum.s == 'D_LVRT'"}],
        "mark": {"type": "line", "strokeWidth": 7, "color": "#D40000"},
        "encoding": {"x": {"field": "t", "type": "quantitative"}, "y": {"field": "v", "type": "quantitative"}}
      },
      {
        "data": {"name": "kref"},
        "mark": {"type": "rule", "color": "#C00000", "strokeWidth": 5, "strokeDash": [11, 7]},
        "encoding": {"x": {"field": "t0", "type": "quantitative"}, "x2": {"field": "t1"}, "y": {"field": "v", "type": "quantitative"}}
      },
      {"data": {"values": [{}]}, "mark": {"type": "text", "text": "0.74", "align": "center", "baseline": "middle", "fontSize": 70, "color": "#C00000"},
       "encoding": {"x": {"datum": 1.72264, "type": "quantitative"}, "y": {"datum": 0.584, "type": "quantitative"}}},
      {"data": {"values": [{}]}, "mark": {"type": "rect", "fill": "#ffffff", "stroke": "#000000", "strokeWidth": 4},
       "encoding": {"x": {"datum": 3.73541, "type": "quantitative"}, "x2": {"datum": 4.46855}, "y": {"datum": 1.17647, "type": "quantitative"}, "y2": {"datum": 0.63529}}},
      {"data": {"values": [{}]}, "mark": {"type": "rule", "color": "#0072BD", "strokeWidth": 5, "strokeCap": "round"},
       "encoding": {"x": {"datum": 3.77139, "type": "quantitative"}, "x2": {"datum": 4.01653}, "y": {"datum": 1.09118, "type": "quantitative"}}},
      {"data": {"values": [{}]}, "mark": {"type": "rule", "color": "#FFC000", "strokeWidth": 5, "strokeCap": "round"},
       "encoding": {"x": {"datum": 3.77139, "type": "quantitative"}, "x2": {"datum": 4.01653}, "y": {"datum": 0.91618, "type": "quantitative"}}},
      {"data": {"values": [{}]}, "mark": {"type": "rule", "color": "#C00000", "strokeWidth": 5, "strokeCap": "round"},
       "encoding": {"x": {"datum": 3.77139, "type": "quantitative"}, "x2": {"datum": 4.01653}, "y": {"datum": 0.74412, "type": "quantitative"}}},
      {"data": {"values": [{}]}, "mark": {"type": "text", "text": "U", "align": "left", "baseline": "middle", "fontSize": 48, "fontStyle": "italic", "color": "#1a1a1a"},
       "encoding": {"x": {"datum": 4.02327, "type": "quantitative"}, "y": {"datum": 1.09118, "type": "quantitative"}}},
      {"data": {"values": [{}]}, "mark": {"type": "text", "text": "pcc", "align": "left", "baseline": "alphabetic", "fontSize": 32, "color": "#1a1a1a"},
       "encoding": {"x": {"datum": 4.10198, "type": "quantitative"}, "y": {"datum": 1.02059, "type": "quantitative"}}},
      {"data": {"values": [{}]}, "mark": {"type": "text", "text": "LVRT", "align": "left", "baseline": "middle", "fontSize": 48, "color": "#1a1a1a"},
       "encoding": {"x": {"datum": 4.02327, "type": "quantitative"}, "y": {"datum": 0.91618, "type": "quantitative"}}},
      {"data": {"values": [{}]}, "mark": {"type": "text", "text": "D_LVRT", "align": "left", "baseline": "middle", "fontSize": 48, "color": "#1a1a1a"},
       "encoding": {"x": {"datum": 4.02327, "type": "quantitative"}, "y": {"datum": 0.74412, "type": "quantitative"}}},
      {"data": {"values": [{}]}, "mark": {"type": "text", "text": "t/s", "align": "center", "baseline": "alphabetic", "fontSize": 83},
       "encoding": {"x": {"datum": 2.97751, "type": "quantitative"}, "y": {"datum": -0.74413, "type": "quantitative"}}},
      {"data": {"values": [{}]}, "mark": {"type": "text", "text": ["(k) circuit operation signal of LVRT,", "D_LVRT, the amplitude of the voltage", "at the point of common coupling"], "lineHeight": 83, "align": "center", "baseline": "alphabetic", "fontSize": 83},
       "encoding": {"x": {"datum": 2.97751, "type": "quantitative"}, "y": {"datum": -1.00884, "type": "quantitative"}}}
    ]
  },
  {"width":378,"height":1,"data":{"values":[]},"mark":"point"},
  {
    "width": 1336, "height": 484,
    "layer": [
      {"data": {"values": [{"g": 2}, {"g": 2.5}, {"g": 3}, {"g": 3.5}, {"g": 4}]}, "mark": {"type": "rule", "color": "#8a8a8a", "strokeWidth": 3},
       "encoding": {"x": {"field": "g", "type": "quantitative"}, "y": {"datum": -0.2, "type": "quantitative"}, "y2": {"datum": 1.2}}},
      {
        "data": {"name": "ldat"},
        "transform": [{"filter": "datum.s == 'o'"}],
        "mark": {"type": "line", "color": "#D95319", "strokeWidth": 2.5},
        "encoding": {
          "x": {"field": "t", "type": "quantitative", "scale": {"domain": [1.5, 4.5], "nice": false, "zero": false},
            "axis": {"title": null, "values": [1.5, 2, 2.5, 3, 3.5, 4, 4.5], "grid": false, "labelPadding": 38, "labelOffset": 15, "labelExpr": "toString(datum.value)"}},
          "y": {"field": "v", "type": "quantitative", "scale": {"domain": [-0.2, 1.22353], "nice": false, "zero": false},
            "axis": {"title": null, "values": [0, 1], "labelPadding": 22, "labelOffset": 5, "labelExpr": "toString(datum.value)"}}
        }
      },
      {
        "data": {"name": "lfill"},
        "mark": {"type": "area", "color": "#0070C0", "opacity": 1},
        "encoding": {"x": {"field": "t", "type": "quantitative"}, "y": {"field": "v", "type": "quantitative"}, "y2": {"datum": 0}}
      },
      {
        "data": {"name": "ldat"},
        "transform": [{"filter": "datum.s == 'b'"}],
        "mark": {"type": "line", "color": "#0070C0", "strokeWidth": 4},
        "encoding": {"x": {"field": "t", "type": "quantitative"}, "y": {"field": "v", "type": "quantitative"}}
      },
      {"data": {"values": [{}]}, "mark": {"type": "rect", "filled": false, "color": "#262626", "strokeWidth": 4},
       "encoding": {"x": {"datum": 1.5, "type": "quantitative"}, "x2": {"datum": 4.5}, "y": {"datum": -0.2, "type": "quantitative"}, "y2": {"datum": 1.2}}},
      {"data": {"values": [{}]}, "mark": {"type": "text", "text": "t/s", "align": "center", "baseline": "alphabetic", "fontSize": 83},
       "encoding": {"x": {"datum": 2.97305, "type": "quantitative"}, "y": {"datum": -0.71766, "type": "quantitative"}}},
      {"data": {"values": [{}]}, "mark": {"type": "text", "text": "(l) dump load circuit operation signal", "align": "center", "baseline": "alphabetic", "fontSize": 83},
       "encoding": {"x": {"datum": 2.96407, "type": "quantitative"}, "y": {"datum": -0.96472, "type": "quantitative"}}}
    ]
  }
  ]
 }
]
}
